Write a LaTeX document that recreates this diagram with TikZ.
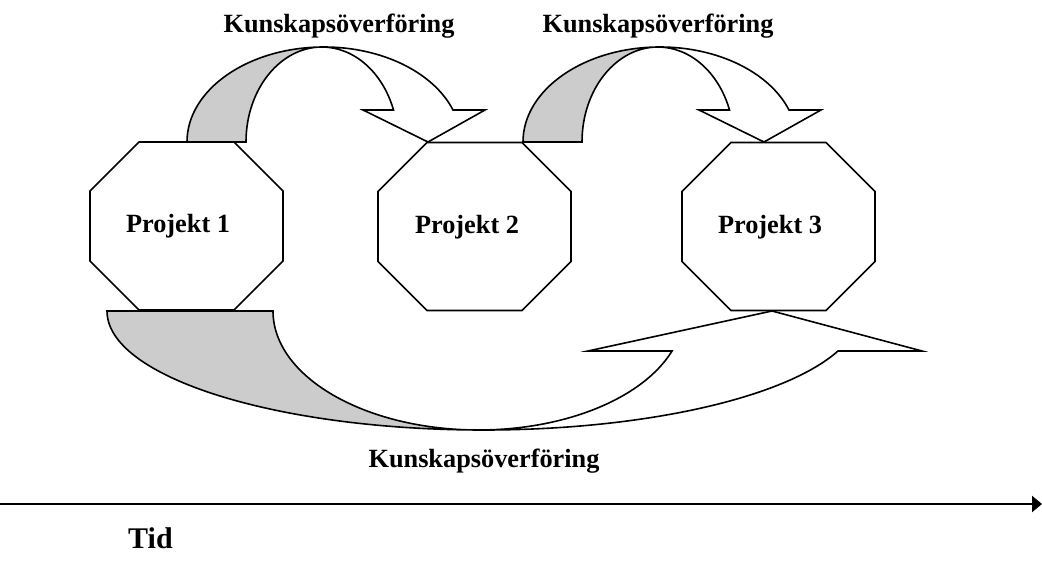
\documentclass[tikz,border=0pt]{standalone}
\usepackage{fontspec}
\setmainfont{Liberation Serif}
\usetikzlibrary{arrows.meta}
\definecolor{backgray}{RGB}{204,204,204}
\tikzset{
  outline/.style={draw=black, line width=1.6pt, line join=miter},
  octa/.style={outline, fill=white},
  backface/.style={outline, fill=backgray},
  frontface/.style={outline, fill=white},
  lbl/.style={font=\bfseries\fontsize{26.3}{30}\selectfont, inner sep=0pt, anchor=base},
  tidlbl/.style={font=\bfseries\fontsize{30}{34}\selectfont, inner sep=0pt, anchor=base west},
  timeline/.style={draw=black, line width=2.2pt, -{Triangle[length=10pt,width=16pt]}},
}
\newcommand\octagonshape[2]{%
  \path[octa,shift={(#1,#2)}] (-47.5,-84) -- (47.5,-84) -- (96.5,-35) -- (96.5,35)
    -- (47.5,84) -- (-47.5,84) -- (-96.5,35) -- (-96.5,-35) -- cycle;}
\newcommand\topcurvedarrow[1]{%
  \begin{scope}[shift={(#1,0)}]
    \path[backface] (187,142) arc[start angle=180,end angle=270,x radius=137,y radius=95]
      -- (322,47) arc[start angle=270,end angle=180,x radius=76,y radius=95] -- cycle;
    \path[frontface] (322,47) -- (324,47)
      arc[start angle=270,end angle=340.3,x radius=137,y radius=95]
      -- (485,110) -- (428,142) -- (363,110) -- (393.5,110)
      arc[start angle=340.3,end angle=270,x radius=76,y radius=95] -- cycle;
  \end{scope}}
\begin{document}
\begin{tikzpicture}[x=1pt,y=-1pt]
  \useasboundingbox (0,0) rectangle (1042,569);
  % top curved arrows
  \topcurvedarrow{0}
  \topcurvedarrow{336}
  % bottom curved arrow
  \path[backface] (107,311) arc[start angle=180,end angle=90,x radius=376.5,y radius=119]
    -- (478.5,430) arc[start angle=90,end angle=180,x radius=205.5,y radius=119] -- cycle;
  \path[frontface] (478.5,430) arc[start angle=90,end angle=19.64,x radius=205.5,y radius=119]
    -- (588,351) -- (772,311) -- (922,351) -- (838,351)
    arc[start angle=19.64,end angle=90,x radius=376.5,y radius=119] -- cycle;
  % octagons
  \octagonshape{186.5}{226}
  \octagonshape{474.5}{226.5}
  \octagonshape{778.5}{226.5}
  \node[lbl] (p1) at (178,233) {Projekt 1};
  \node[lbl] (p2) at (467,234) {Projekt 2};
  \node[lbl] (p3) at (770,234) {Projekt 3};
  % labels
  \node[lbl] (k1) at (339,33) {Kunskapsöverföring};
  \node[lbl] (k2) at (658,33) {Kunskapsöverföring};
  \node[lbl] (k3) at (484,467) {Kunskapsöverföring};
  % time axis
  \coordinate (tstart) at (0,504);
  \coordinate (tend) at (1042,504);
  \draw[timeline] (tstart) -- (tend);
  \node[tidlbl] (tid) at (128,548) {Tid};
\end{tikzpicture}
\end{document}
